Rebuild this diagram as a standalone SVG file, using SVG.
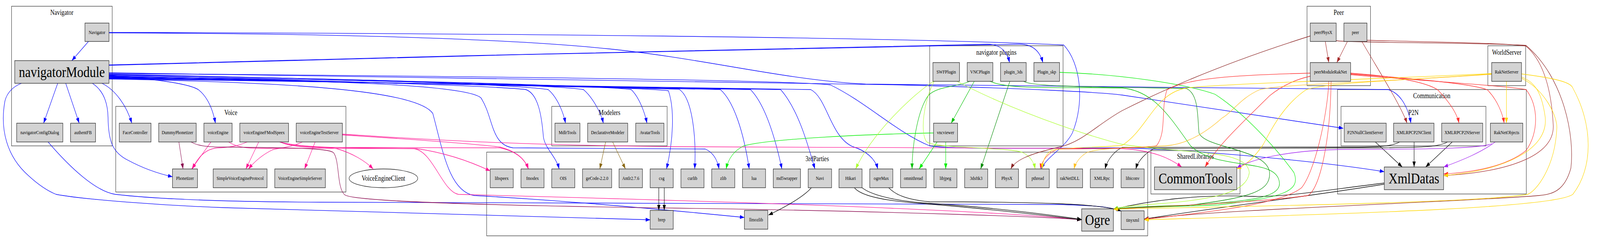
<svg xmlns="http://www.w3.org/2000/svg" width="4991" height="629" viewBox="0 0 4991 629">
<style>
.cl{fill:none;stroke:#3a3a3a;stroke-width:1.3}
.ct{font-family:"Liberation Serif","Times New Roman",serif;font-size:18px;text-anchor:middle;fill:#000}
.n rect{fill:#d3d3d3;stroke:#222;stroke-width:1.3}
.n ellipse{fill:#fff;stroke:#222;stroke-width:1.3}
.n text{font-family:"Liberation Serif","Times New Roman",serif;font-size:13px;text-anchor:middle;fill:#000}
.n text.big{font-size:39px}
.n text.mid{font-size:18px}
#edges path{fill:none;stroke-width:1.3}
.b{stroke:#0000ff;marker-end:url(#mb)}
.p{stroke:#ff1493;marker-end:url(#mp)}
.m{stroke:#8b0a50;marker-end:url(#mm)}
.g4{stroke:#8b6914;marker-end:url(#mg4)}
.k{stroke:#000;marker-end:url(#mk)}
.gr{stroke:#00ee00;marker-end:url(#mgr)}
.g3{stroke:#00c000;marker-end:url(#mg3)}
.dg{stroke:#008b00;marker-end:url(#mdg)}
.gy{stroke:#adff2f;marker-end:url(#mgy)}
.br{stroke:#a52a2a;marker-end:url(#mbr)}
.dr{stroke:#8b2323;marker-end:url(#mdr)}
.rd{stroke:#ff3030;marker-end:url(#mrd)}
.gd{stroke:#ffd700;marker-end:url(#mgd)}
.go{stroke:#ffc125;marker-end:url(#mgo)}
.pu{stroke:#a020f0;marker-end:url(#mpu)}
</style>
<defs>
<marker id="mb" markerUnits="userSpaceOnUse" markerWidth="14" markerHeight="10" viewBox="0 0 14 10" refX="14" refY="5" orient="auto"><path d="M0,0L14,5L0,10z" fill="#0000ff"/></marker>
<marker id="mp" markerUnits="userSpaceOnUse" markerWidth="14" markerHeight="10" viewBox="0 0 14 10" refX="14" refY="5" orient="auto"><path d="M0,0L14,5L0,10z" fill="#ff1493"/></marker>
<marker id="mm" markerUnits="userSpaceOnUse" markerWidth="14" markerHeight="10" viewBox="0 0 14 10" refX="14" refY="5" orient="auto"><path d="M0,0L14,5L0,10z" fill="#8b0a50"/></marker>
<marker id="mg4" markerUnits="userSpaceOnUse" markerWidth="14" markerHeight="10" viewBox="0 0 14 10" refX="14" refY="5" orient="auto"><path d="M0,0L14,5L0,10z" fill="#8b6914"/></marker>
<marker id="mk" markerUnits="userSpaceOnUse" markerWidth="14" markerHeight="10" viewBox="0 0 14 10" refX="14" refY="5" orient="auto"><path d="M0,0L14,5L0,10z" fill="#000"/></marker>
<marker id="mgr" markerUnits="userSpaceOnUse" markerWidth="14" markerHeight="10" viewBox="0 0 14 10" refX="14" refY="5" orient="auto"><path d="M0,0L14,5L0,10z" fill="#00ee00"/></marker>
<marker id="mg3" markerUnits="userSpaceOnUse" markerWidth="14" markerHeight="10" viewBox="0 0 14 10" refX="14" refY="5" orient="auto"><path d="M0,0L14,5L0,10z" fill="#00c000"/></marker>
<marker id="mdg" markerUnits="userSpaceOnUse" markerWidth="14" markerHeight="10" viewBox="0 0 14 10" refX="14" refY="5" orient="auto"><path d="M0,0L14,5L0,10z" fill="#008b00"/></marker>
<marker id="mgy" markerUnits="userSpaceOnUse" markerWidth="14" markerHeight="10" viewBox="0 0 14 10" refX="14" refY="5" orient="auto"><path d="M0,0L14,5L0,10z" fill="#adff2f"/></marker>
<marker id="mbr" markerUnits="userSpaceOnUse" markerWidth="14" markerHeight="10" viewBox="0 0 14 10" refX="14" refY="5" orient="auto"><path d="M0,0L14,5L0,10z" fill="#a52a2a"/></marker>
<marker id="mdr" markerUnits="userSpaceOnUse" markerWidth="14" markerHeight="10" viewBox="0 0 14 10" refX="14" refY="5" orient="auto"><path d="M0,0L14,5L0,10z" fill="#8b2323"/></marker>
<marker id="mrd" markerUnits="userSpaceOnUse" markerWidth="14" markerHeight="10" viewBox="0 0 14 10" refX="14" refY="5" orient="auto"><path d="M0,0L14,5L0,10z" fill="#ff3030"/></marker>
<marker id="mgd" markerUnits="userSpaceOnUse" markerWidth="14" markerHeight="10" viewBox="0 0 14 10" refX="14" refY="5" orient="auto"><path d="M0,0L14,5L0,10z" fill="#ffd700"/></marker>
<marker id="mgo" markerUnits="userSpaceOnUse" markerWidth="14" markerHeight="10" viewBox="0 0 14 10" refX="14" refY="5" orient="auto"><path d="M0,0L14,5L0,10z" fill="#ffc125"/></marker>
<marker id="mpu" markerUnits="userSpaceOnUse" markerWidth="14" markerHeight="10" viewBox="0 0 14 10" refX="14" refY="5" orient="auto"><path d="M0,0L14,5L0,10z" fill="#a020f0"/></marker>
</defs>
<rect width="4991" height="629" fill="#fff"/>
<g id="diagram" transform="scale(0.8207,1)">
<g id="clusters">
<g id="cluster_Navigator"><rect class="cl" x="36" y="16" width="314" height="357"/><text class="ct" x="193" y="38">Navigator</text></g>
<g id="cluster_Voice"><rect class="cl" x="361" y="272" width="718" height="219"/><text class="ct" x="720" y="294">Voice</text></g>
<g id="cluster_Modelers"><rect class="cl" x="1721" y="272" width="360" height="101"/><text class="ct" x="1901" y="294">Modelers</text></g>
<g id="cluster_3rdParties"><rect class="cl" x="1518" y="389" width="2062" height="214"/><text class="ct" x="2549" y="412">3rdParties</text></g>
<g id="cluster_plugins"><rect class="cl" x="2900" y="117" width="416" height="256"/><text class="ct" x="3108" y="140">navigator plugins</text></g>
<g id="cluster_SharedLibraries"><rect class="cl" x="3590" y="385" width="278" height="111"/><text class="ct" x="3729" y="406">SharedLibraries</text></g>
<g id="cluster_Peer"><rect class="cl" x="4077" y="16" width="198" height="203"/><text class="ct" x="4176" y="38">Peer</text></g>
<g id="cluster_WorldServer"><rect class="cl" x="4641" y="117" width="118" height="102"/><text class="ct" x="4700" y="140">WorldServer</text></g>
<g id="cluster_Communication"><rect class="cl" x="4172" y="229" width="589" height="267"/><text class="ct" x="4466" y="251">Communication</text></g>
<g id="cluster_P2N"><rect class="cl" x="4183" y="272" width="452" height="101"/><text class="ct" x="4409" y="294">P2N</text></g>
</g>
<g id="edges">
<path class="b" d="M276,106 L224,155"/>
<path class="b" d="M180,213 L136,315"/>
<path class="b" d="M205,213 L247,315"/>
<path class="b" d="M318,213 C360,230 395,270 411,315"/>
<path class="b" d="M340,193 C450,200 590,212 620,230 C650,250 665,285 672,315"/>
<path class="b" d="M288,213 C320,230 336,260 337,300 C338,360 350,390 400,410 C450,432 500,445 538,452"/>
<path class="b" d="M67,213 C38,222 20,240 15,260 C0,330 20,400 90,450 C130,480 160,492 175,497 C260,510 500,525 700,531 C1200,545 1700,556 2028,562"/>
<path class="b" d="M150,363 C220,430 300,490 360,497 C500,510 700,516 1000,517 L3300,523 C3420,525 3470,530 3497,540"/>
<path class="b" d="M340,166 C1200,150 2400,118 3080,113 C3125,113 3142,135 3149,160"/>
<path class="b" d="M340,167 C1200,151 2400,119 3180,113 C3225,113 3245,135 3253,160"/>
<path class="b" d="M340,83 C1500,85 2800,95 3318,115 C3370,160 3385,260 3345,340 C3320,380 3265,400 3248,432"/>
<path class="b" d="M340,84 C1100,86 1600,100 1900,125 C2200,150 2450,205 2700,215 C3200,222 3900,222 4330,229 C4375,240 4395,285 4401,315"/>
<path class="b" d="M340,186 C1500,195 2500,210 2800,217 C3200,226 3440,236 3500,243 L4190,328"/>
<path class="b" d="M340,188 C1500,195 2450,205 2590,217 C2700,260 2800,340 2900,373 C2950,380 3100,380 3500,378 C3700,382 4100,410 4318,439"/>
<path class="b" d="M340,190 C1000,200 1600,215 1710,229 C1740,250 1758,290 1764,315"/>
<path class="b" d="M340,191 C1000,200 1700,215 1820,229 C1850,250 1875,290 1882,315"/>
<path class="b" d="M340,192 C1100,202 1850,218 1969,229 C1995,250 2012,290 2018,315"/>
<path class="b" d="M340,194 C1000,205 1550,220 1640,229 C1680,240 1690,300 1695,350 C1700,380 1735,400 1744,432"/>
<path class="b" d="M340,195 C1200,205 1950,222 2085,232 C2105,280 2100,360 2079,432"/>
<path class="b" d="M340,196 C1200,208 2000,222 2118,228 C2160,250 2172,350 2167,432"/>
<path class="b" d="M340,197 C1000,205 1450,215 1500,250 C1540,300 1530,370 1600,378 L2200,381 C2225,390 2238,410 2243,432"/>
<path class="b" d="M340,198 C1300,210 2150,222 2247,229 C2290,260 2320,340 2337,432"/>
<path class="b" d="M340,199 C1300,212 2250,222 2341,229 C2390,270 2420,360 2439,432"/>
<path class="b" d="M340,200 C1300,213 2350,222 2435,229 C2490,280 2520,370 2542,432"/>
<path class="b" d="M340,201 C1300,214 2450,222 2529,229 C2580,250 2590,350 2660,375 C2700,385 2730,405 2738,432"/>
<path class="b" d="M340,202 C900,210 1300,230 1350,290 C1380,380 1400,490 1480,500 C1700,510 2000,530 2322,556"/>
<path class="p" d="M658,363 L598,432"/>
<path class="p" d="M771,363 C745,372 720,377 680,378 C640,380 615,405 600,432"/>
<path class="p" d="M807,363 L767,432"/>
<path class="p" d="M943,363 C910,377 870,378 850,383 C820,395 795,412 775,432"/>
<path class="p" d="M983,363 L950,432"/>
<path class="p" d="M874,363 C920,378 1000,374 1050,380 C1100,392 1140,412 1164,432"/>
<path class="p" d="M876,364 C920,380 1000,377 1100,377 L1560,378 C1600,385 1635,400 1648,432"/>
<path class="p" d="M872,363 C950,382 1200,378 1300,380 C1400,392 1480,418 1529,437"/>
<path class="p" d="M1068,343 C1300,355 1550,370 2100,375 L3500,380 C3600,385 3650,405 3686,427"/>
<path class="p" d="M1068,345 C1300,357 1480,368 1560,376 C1600,385 1635,400 1648,432"/>
<path class="p" d="M713,363 C740,378 780,381 850,379 L1290,380 C1350,385 1380,490 1430,497 C1800,505 3000,530 3374,562"/>
<path class="m" d="M558,363 L571,432"/>
<path class="m" d="M596,363 C615,372 640,376 700,376 C900,378 1020,378 1040,390 C1060,410 1050,480 1075,498 C1100,515 1500,525 2100,532 C2800,540 3300,556 3374,562"/>
<path class="g4" d="M1889,363 L1871,432"/>
<path class="g4" d="M1911,363 L1951,432"/>
<path class="k" d="M2055,480 L2055,538"/>
<path class="k" d="M2072,480 L2072,538"/>
<path class="k" d="M2531,480 C2510,500 2460,525 2397,550"/>
<path class="k" d="M2665,480 C2690,505 2780,515 2900,522 C3100,535 3300,555 3374,562"/>
<path class="k" d="M2689,480 C2720,500 2800,515 2900,520 C3100,530 3300,552 3374,561"/>
<path class="k" d="M2772,480 C2790,495 2820,510 2900,516 C3200,516 3450,520 3497,540"/>
<path class="k" d="M4318,471 C4100,500 3800,530 3569,560"/>
<path class="k" d="M4318,468 C4100,490 4000,505 3900,502 C3750,497 3600,510 3473,535"/>
<path class="k" d="M4290,363 L4374,427"/>
<path class="k" d="M4411,363 L4411,427"/>
<path class="k" d="M4530,363 L4447,427"/>
<path class="k" d="M4366,363 C4340,375 4300,376 4200,376 L3500,377 C3480,385 3455,405 3447,432"/>
<path class="k" d="M4515,363 C4490,375 4450,377 4300,378 L3600,380 C3575,390 3550,410 3543,432"/>
<path class="g3" d="M3039,208 L2967,315"/>
<path class="g3" d="M3025,208 C2990,222 2920,220 2895,245 C2860,285 2845,380 2845,432"/>
<path class="gr" d="M2923,363 L2867,432"/>
<path class="gr" d="M2950,363 L2950,432"/>
<path class="gr" d="M2912,340 C2700,343 2400,355 2320,373 C2290,385 2272,405 2265,432"/>
<path class="dg" d="M3150,208 L3059,432"/>
<path class="gy" d="M2912,208 C2850,240 2720,340 2669,432"/>
<path class="gy" d="M2914,208 C2880,260 2870,340 2890,362 C2910,380 3150,376 3190,390 C3215,400 3225,415 3229,432"/>
<path class="gy" d="M2985,208 C3200,300 3450,360 3500,369 C3700,395 3890,380 3897,441 C3890,490 3800,510 3600,522 C3520,526 3490,530 3473,535"/>
<path class="g3" d="M3088,208 C3150,230 3300,222 3500,225 C3600,232 3650,300 3714,373 C3800,440 3990,400 3991,470 C3990,505 3900,515 3700,525 C3560,528 3500,531 3473,535"/>
<path class="dg" d="M3193,208 C3220,222 3400,222 3700,226 C3740,240 3735,300 3740,340 C3760,380 3950,380 3960,440 C3965,490 3900,505 3700,526 C3560,529 3500,532 3473,535"/>
<path class="gr" d="M3305,185 C3500,190 3700,215 3790,241 C3900,300 4000,400 4036,441 C4060,490 4000,505 3800,524 C3600,530 3500,532 3473,535"/>
<path class="br" d="M4134,106 L4145,160"/>
<path class="br" d="M4203,106 L4170,160"/>
<path class="dr" d="M4087,92 C3900,140 3700,200 3500,283 C3420,320 3380,360 3310,375 C3200,395 3165,412 3153,432"/>
<path class="br" d="M4248,106 C4300,180 4370,270 4389,315"/>
<path class="br" d="M4264,103 C4500,108 4700,110 4760,118 C4820,160 4840,240 4845,320 C4850,400 4700,440 4503,449"/>
<path class="dr" d="M4168,104 C4200,110 4600,108 4760,116 C4880,200 4912,350 4900,430 C4880,490 4840,497 4800,500 C4600,515 3800,535 3569,560"/>
<path class="rd" d="M4087,195 C4030,205 3990,225 3960,245 C3880,310 3800,370 3759,427"/>
<path class="rd" d="M4213,187 C4350,195 4450,210 4485,230 C4520,260 4545,290 4551,315"/>
<path class="rd" d="M4213,189 C4400,200 4600,215 4640,230 C4670,255 4687,290 4692,315"/>
<path class="rd" d="M4213,191 C4500,210 4700,220 4760,229 C4800,270 4800,340 4760,385 C4700,425 4600,440 4503,445"/>
<path class="rd" d="M4087,187 C3850,192 3700,200 3640,230 C3620,280 3640,340 3607,373 C3550,380 3400,380 3300,381 C3270,390 3250,410 3245,432"/>
<path class="rd" d="M4145,208 C4140,300 4100,440 4060,480 C4000,520 3800,540 3569,561"/>
<path class="rd" d="M4152,208 C4150,350 4120,480 4080,500 C3900,520 3600,528 3473,535"/>
<path class="gd" d="M4699,208 L4699,315"/>
<path class="gd" d="M4746,197 C4790,210 4810,240 4820,300 C4830,380 4700,435 4503,449"/>
<path class="gd" d="M4746,189 C4850,200 4900,210 4906,225 C4970,320 4970,430 4906,497 C4850,530 4300,545 3569,562"/>
<path class="gd" d="M4746,200 C4820,230 4860,300 4856,330 C4850,430 4790,490 4765,497 C4600,520 3800,528 3473,535"/>
<path class="gd" d="M4653,189 C4400,205 4150,210 4075,229 C4000,270 3960,340 3940,370 C3910,405 3890,420 3858,432"/>
<path class="go" d="M4653,190 C4300,210 4000,215 3930,229 C3870,250 3840,290 3813,301 C3760,340 3700,370 3634,373 C3500,378 3420,380 3390,390 C3370,400 3355,415 3350,432"/>
<path class="gd" d="M4653,188 C4200,205 3800,215 3700,225 C3600,240 3580,330 3500,372 C3400,378 3300,378 3280,385 C3260,395 3252,412 3251,432"/>
<path class="pu" d="M4664,363 C4620,390 4560,410 4503,427"/>
<path class="pu" d="M4654,367 C4630,378 4500,382 4200,382 C4000,384 3900,410 3858,429"/>
</g>
<g id="nodes">
<g id="Navigator" class="n"><rect x="265" y="59" width="75" height="47"/><text x="302.5" y="87">Navigator</text></g>
<g id="navigatorModule" class="n"><rect x="46" y="155" width="294" height="58"/><text class="big" x="193" y="197">navigatorModule</text></g>
<g id="navigatorConfigDialog" class="n"><rect x="52" y="315" width="144" height="48"/><text x="124" y="343.5">navigatorConfigDialog</text></g>
<g id="authentFB" class="n"><rect x="220" y="315" width="78" height="48"/><text x="259" y="343.5">authentFB</text></g>
<g id="FaceController" class="n"><rect x="372" y="315" width="99" height="48"/><text x="421.5" y="343.5">FaceController</text></g>
<g id="DummyPhonetizer" class="n"><rect x="495" y="315" width="117" height="48"/><text x="553.5" y="343.5">DummyPhonetizer</text></g>
<g id="voiceEngine" class="n"><rect x="636" y="315" width="88" height="48"/><text x="680" y="343.5">voiceEngine</text></g>
<g id="voiceEngineFModSpeex" class="n"><rect x="748" y="315" width="152" height="48"/><text x="824" y="343.5">voiceEngineFModSpeex</text></g>
<g id="voiceEngineTestServer" class="n"><rect x="924" y="315" width="144" height="48"/><text x="996" y="343.5">voiceEngineTestServer</text></g>
<g id="Phonetizer" class="n"><rect x="538" y="432" width="78" height="48"/><text x="577" y="460.5">Phonetizer</text></g>
<g id="SimpleVoiceEngineProtocol" class="n"><rect x="665" y="432" width="168" height="48"/><text x="749" y="460.5">SimpleVoiceEngineProtocol</text></g>
<g id="VoiceEngineSimpleServer" class="n"><rect x="857" y="432" width="158" height="48"/><text x="936" y="460.5">VoiceEngineSimpleServer</text></g>
<g id="VoiceEngineClient" class="n"><ellipse cx="1196" cy="456" rx="107" ry="24"/><text class="mid" x="1196" y="462">VoiceEngineClient</text></g>
<g id="MdlrTools" class="n"><rect x="1731" y="315" width="78" height="48"/><text x="1770" y="343.5">MdlrTools</text></g>
<g id="DeclarativeModeler" class="n"><rect x="1833" y="315" width="125" height="48"/><text x="1895.5" y="343.5">DeclarativeModeler</text></g>
<g id="AvatarTools" class="n"><rect x="1983" y="315" width="88" height="48"/><text x="2027" y="343.5">AvatarTools</text></g>
<g id="libspeex" class="n"><rect x="1529" y="432" width="72" height="48"/><text x="1565" y="460.5">libspeex</text></g>
<g id="fmodex" class="n"><rect x="1625" y="432" width="72" height="48"/><text x="1661" y="460.5">fmodex</text></g>
<g id="OIS" class="n"><rect x="1721" y="432" width="72" height="48"/><text x="1757" y="460.5">OIS</text></g>
<g id="geCode" class="n"><rect x="1817" y="432" width="91" height="48"/><text x="1862.5" y="460.5">geCode-2.2.0</text></g>
<g id="Antlr" class="n"><rect x="1931" y="432" width="73" height="48"/><text x="1967.5" y="460.5">Antlr2.7.6</text></g>
<g id="csg" class="n"><rect x="2028" y="432" width="72" height="48"/><text x="2064" y="460.5">csg</text></g>
<g id="curlib" class="n"><rect x="2124" y="432" width="72" height="48"/><text x="2160" y="460.5">curlib</text></g>
<g id="zlib" class="n"><rect x="2220" y="432" width="72" height="48"/><text x="2256" y="460.5">zlib</text></g>
<g id="lua" class="n"><rect x="2316" y="432" width="72" height="48"/><text x="2352" y="460.5">lua</text></g>
<g id="md5wrapper" class="n"><rect x="2412" y="432" width="85" height="48"/><text x="2454.5" y="460.5">md5wrapper</text></g>
<g id="Navi" class="n"><rect x="2521" y="432" width="73" height="48"/><text x="2557.5" y="460.5">Navi</text></g>
<g id="Hikari" class="n"><rect x="2617" y="432" width="72" height="48"/><text x="2653" y="460.5">Hikari</text></g>
<g id="ogreMax" class="n"><rect x="2713" y="432" width="72" height="48"/><text x="2749" y="460.5">ogreMax</text></g>
<g id="omnithread" class="n"><rect x="2809" y="432" width="80" height="48"/><text x="2849" y="460.5">omnithread</text></g>
<g id="libjpeg" class="n"><rect x="2913" y="432" width="72" height="48"/><text x="2949" y="460.5">libjpeg</text></g>
<g id="3dsftk3" class="n"><rect x="3009" y="432" width="72" height="48"/><text x="3045" y="460.5">3dsftk3</text></g>
<g id="PhysX" class="n"><rect x="3105" y="432" width="72" height="48"/><text x="3141" y="460.5">PhysX</text></g>
<g id="pthread" class="n"><rect x="3201" y="432" width="72" height="48"/><text x="3237" y="460.5">pthread</text></g>
<g id="rakNetDLL" class="n"><rect x="3297" y="432" width="80" height="48"/><text x="3337" y="460.5">rakNetDLL</text></g>
<g id="XMLRpc" class="n"><rect x="3401" y="432" width="72" height="48"/><text x="3437" y="460.5">XMLRpc</text></g>
<g id="libiconv" class="n"><rect x="3497" y="432" width="72" height="48"/><text x="3533" y="460.5">libiconv</text></g>
<g id="brep" class="n"><rect x="2028" y="538" width="72" height="48"/><text x="2064" y="566.5">brep</text></g>
<g id="llmozlib" class="n"><rect x="2322" y="538" width="73" height="48"/><text x="2358.5" y="566.5">llmozlib</text></g>
<g id="Ogre" class="n"><rect x="3374" y="534" width="99" height="57"/><text class="big" x="3423.5" y="575">Ogre</text></g>
<g id="tinyxml" class="n"><rect x="3497" y="539" width="72" height="48"/><text x="3533" y="567.5">tinyxml</text></g>
<g id="SWFPlugin" class="n"><rect x="2910" y="160" width="83" height="48"/><text x="2951.5" y="188.5">SWFPlugin</text></g>
<g id="VNCPlugin" class="n"><rect x="3017" y="160" width="80" height="48"/><text x="3057" y="188.5">VNCPlugin</text></g>
<g id="plugin_3ds" class="n"><rect x="3121" y="160" width="80" height="48"/><text x="3161" y="188.5">plugin_3ds</text></g>
<g id="Plugin_skp" class="n"><rect x="3225" y="160" width="80" height="48"/><text x="3265" y="188.5">Plugin_skp</text></g>
<g id="vncviewer" class="n"><rect x="2912" y="315" width="75" height="48"/><text x="2949.5" y="343.5">vncviewer</text></g>
<g id="CommonTools" class="n"><rect x="3601" y="427" width="257" height="58"/><text class="big" x="3729.5" y="469">CommonTools</text></g>
<g id="peerPhysX" class="n"><rect x="4087" y="59" width="81" height="47"/><text x="4127.5" y="87">peerPhysX</text></g>
<g id="peer" class="n"><rect x="4192" y="59" width="72" height="47"/><text x="4228" y="87">peer</text></g>
<g id="peerModuleRakNet" class="n"><rect x="4087" y="160" width="126" height="48"/><text x="4150" y="188.5">peerModuleRakNet</text></g>
<g id="RakNetServer" class="n"><rect x="4653" y="160" width="93" height="48"/><text x="4699.5" y="188.5">RakNetServer</text></g>
<g id="P2NNullClientServer" class="n"><rect x="4193" y="315" width="131" height="48"/><text x="4258.5" y="343.5">P2NNullClientServer</text></g>
<g id="XMLRPCP2NClient" class="n"><rect x="4347" y="315" width="126" height="48"/><text x="4410" y="343.5">XMLRPCP2NClient</text></g>
<g id="XMLRPCP2NServer" class="n"><rect x="4497" y="315" width="128" height="48"/><text x="4561" y="343.5">XMLRPCP2NServer</text></g>
<g id="RakNetObjects" class="n"><rect x="4649" y="315" width="101" height="48"/><text x="4699.5" y="343.5">RakNetObjects</text></g>
<g id="XmlDatas" class="n"><rect x="4318" y="427" width="185" height="58"/><text class="big" x="4410.5" y="469">XmlDatas</text></g>
</g>
</g>
</svg>
